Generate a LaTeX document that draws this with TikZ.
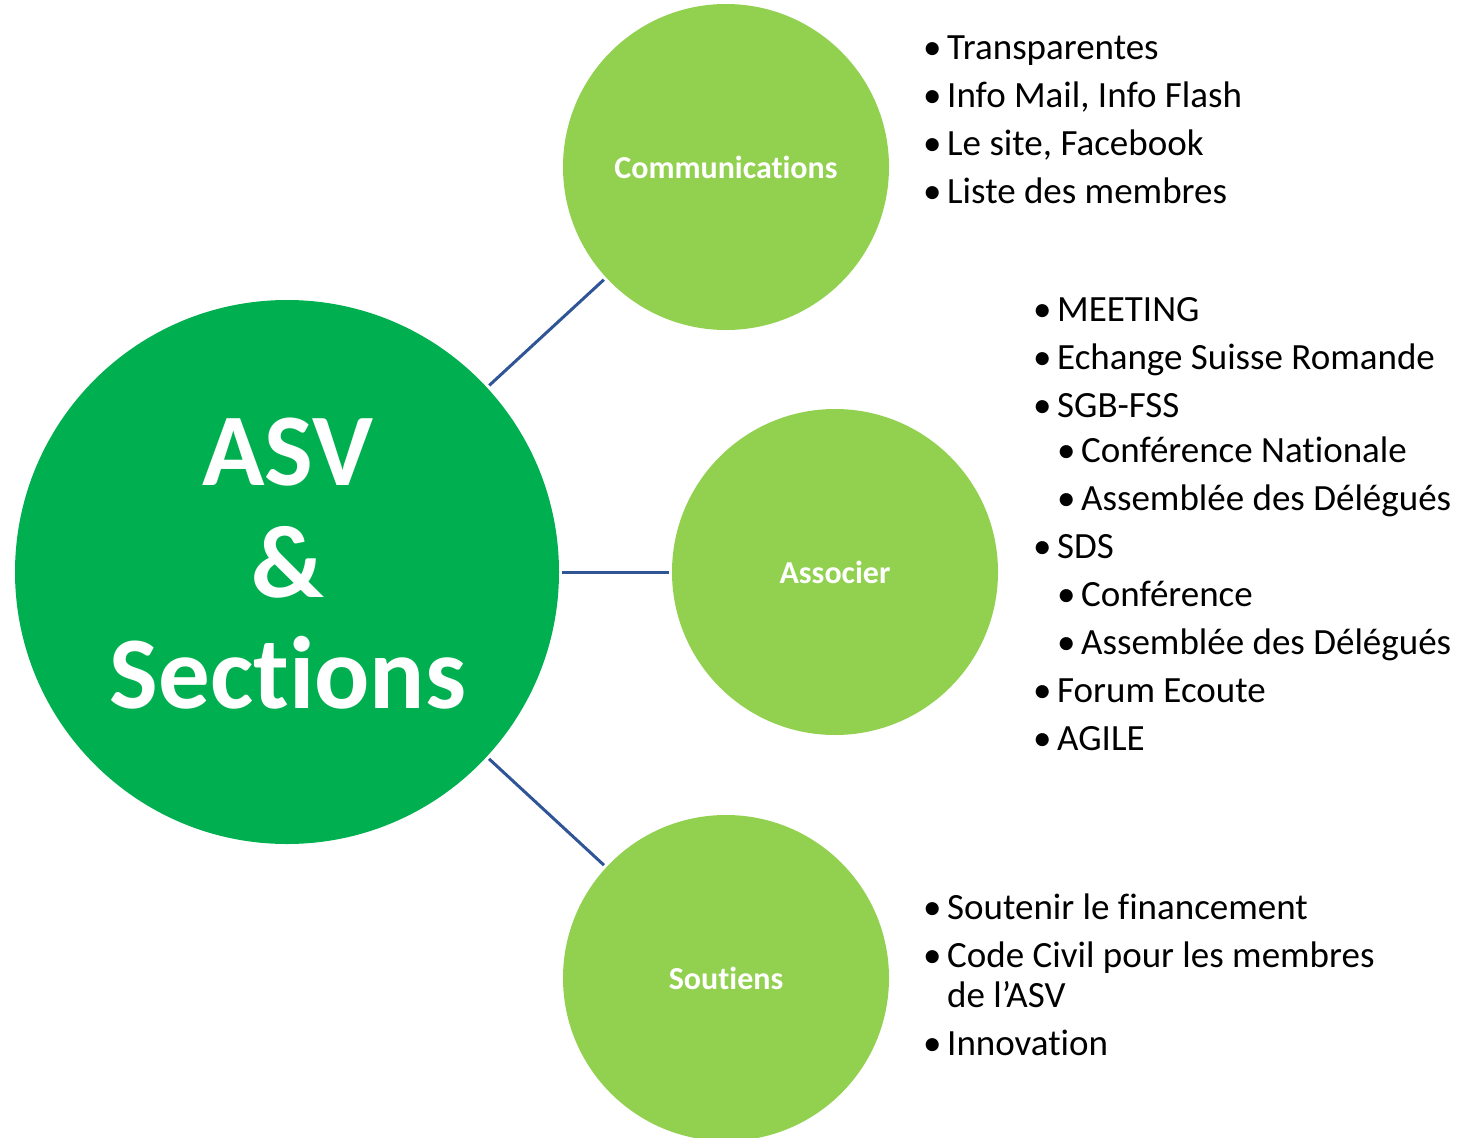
\documentclass[tikz,border=0pt]{standalone}
\usepackage{fontspec}
\setmainfont{Carlito}[Ligatures=NoCommon]
\usepackage{tikz}
\definecolor{vertfonce}{RGB}{0,176,80}
\definecolor{vertclair}{RGB}{146,208,80}
\definecolor{bleulien}{RGB}{47,85,151}
\newcommand{\puce}{\makebox[24pt][l]{\textbullet}}

\begin{document}
\begin{tikzpicture}[x=1pt,y=-1pt,
    grand/.style={circle,fill=vertfonce,minimum size=544pt,inner sep=0pt},
    petit/.style={circle,fill=vertclair,minimum size=326pt,inner sep=0pt,text=white,font=\fontsize{32}{38}\selectfont\bfseries},
    liste/.style={anchor=north west,align=left,inner sep=0pt,font=\fontsize{37}{40}\selectfont},
    lien/.style={draw=bleulien,line width=3pt,shorten <=3pt,shorten >=3pt}]
  \useasboundingbox (0,0) rectangle (1460,1138);
  % cercles
  \node[grand] (asv) at (287,572) {};
  \node[text=white,align=center,inner sep=0pt,font=\fontsize{103}{111.5}\selectfont\bfseries] (asvtexte) at (288,564) {ASV\\\&\\Sections};
  \node[petit] (comm) at (726,167) {Communications};
  \node[petit] (assoc) at (835,572) {Associer};
  \node[petit] (sout) at (726,978) {Soutiens};
  % liens
  \draw[lien] (asv) -- (comm);
  \draw[lien] (asv) -- (assoc);
  \draw[lien] (asv) -- (sout);
  % listes
  \node[liste] (listecomm) at (923,35.5) {\puce Transparentes\\[8pt]
    \puce Info Mail, Info Flash\\[8pt]
    \puce Le site, Facebook\\[8pt]
    \puce Liste des membres};
  \node[liste] (listeassoc) at (1033,297.5) {\puce MEETING\\[8pt]
    \puce Echange Suisse Romande\\[8pt]
    \puce SGB-FSS\\[5pt]
    \hspace*{24pt}\puce Conférence Nationale\\[8pt]
    \hspace*{24pt}\puce Assemblée des Délégués\\[8pt]
    \puce SDS\\[8pt]
    \hspace*{24pt}\puce Conférence\\[8pt]
    \hspace*{24pt}\puce Assemblée des Délégués\\[8pt]
    \puce Forum Ecoute\\[8pt]
    \puce AGILE};
  \node[liste] (listesout) at (923,894) {\puce Soutenir le financement\\[8pt]
    \puce Code Civil pour les membres\\
    \hspace*{24pt}de l’ASV\\[8pt]
    \puce Innovation};
\end{tikzpicture}
\end{document}
